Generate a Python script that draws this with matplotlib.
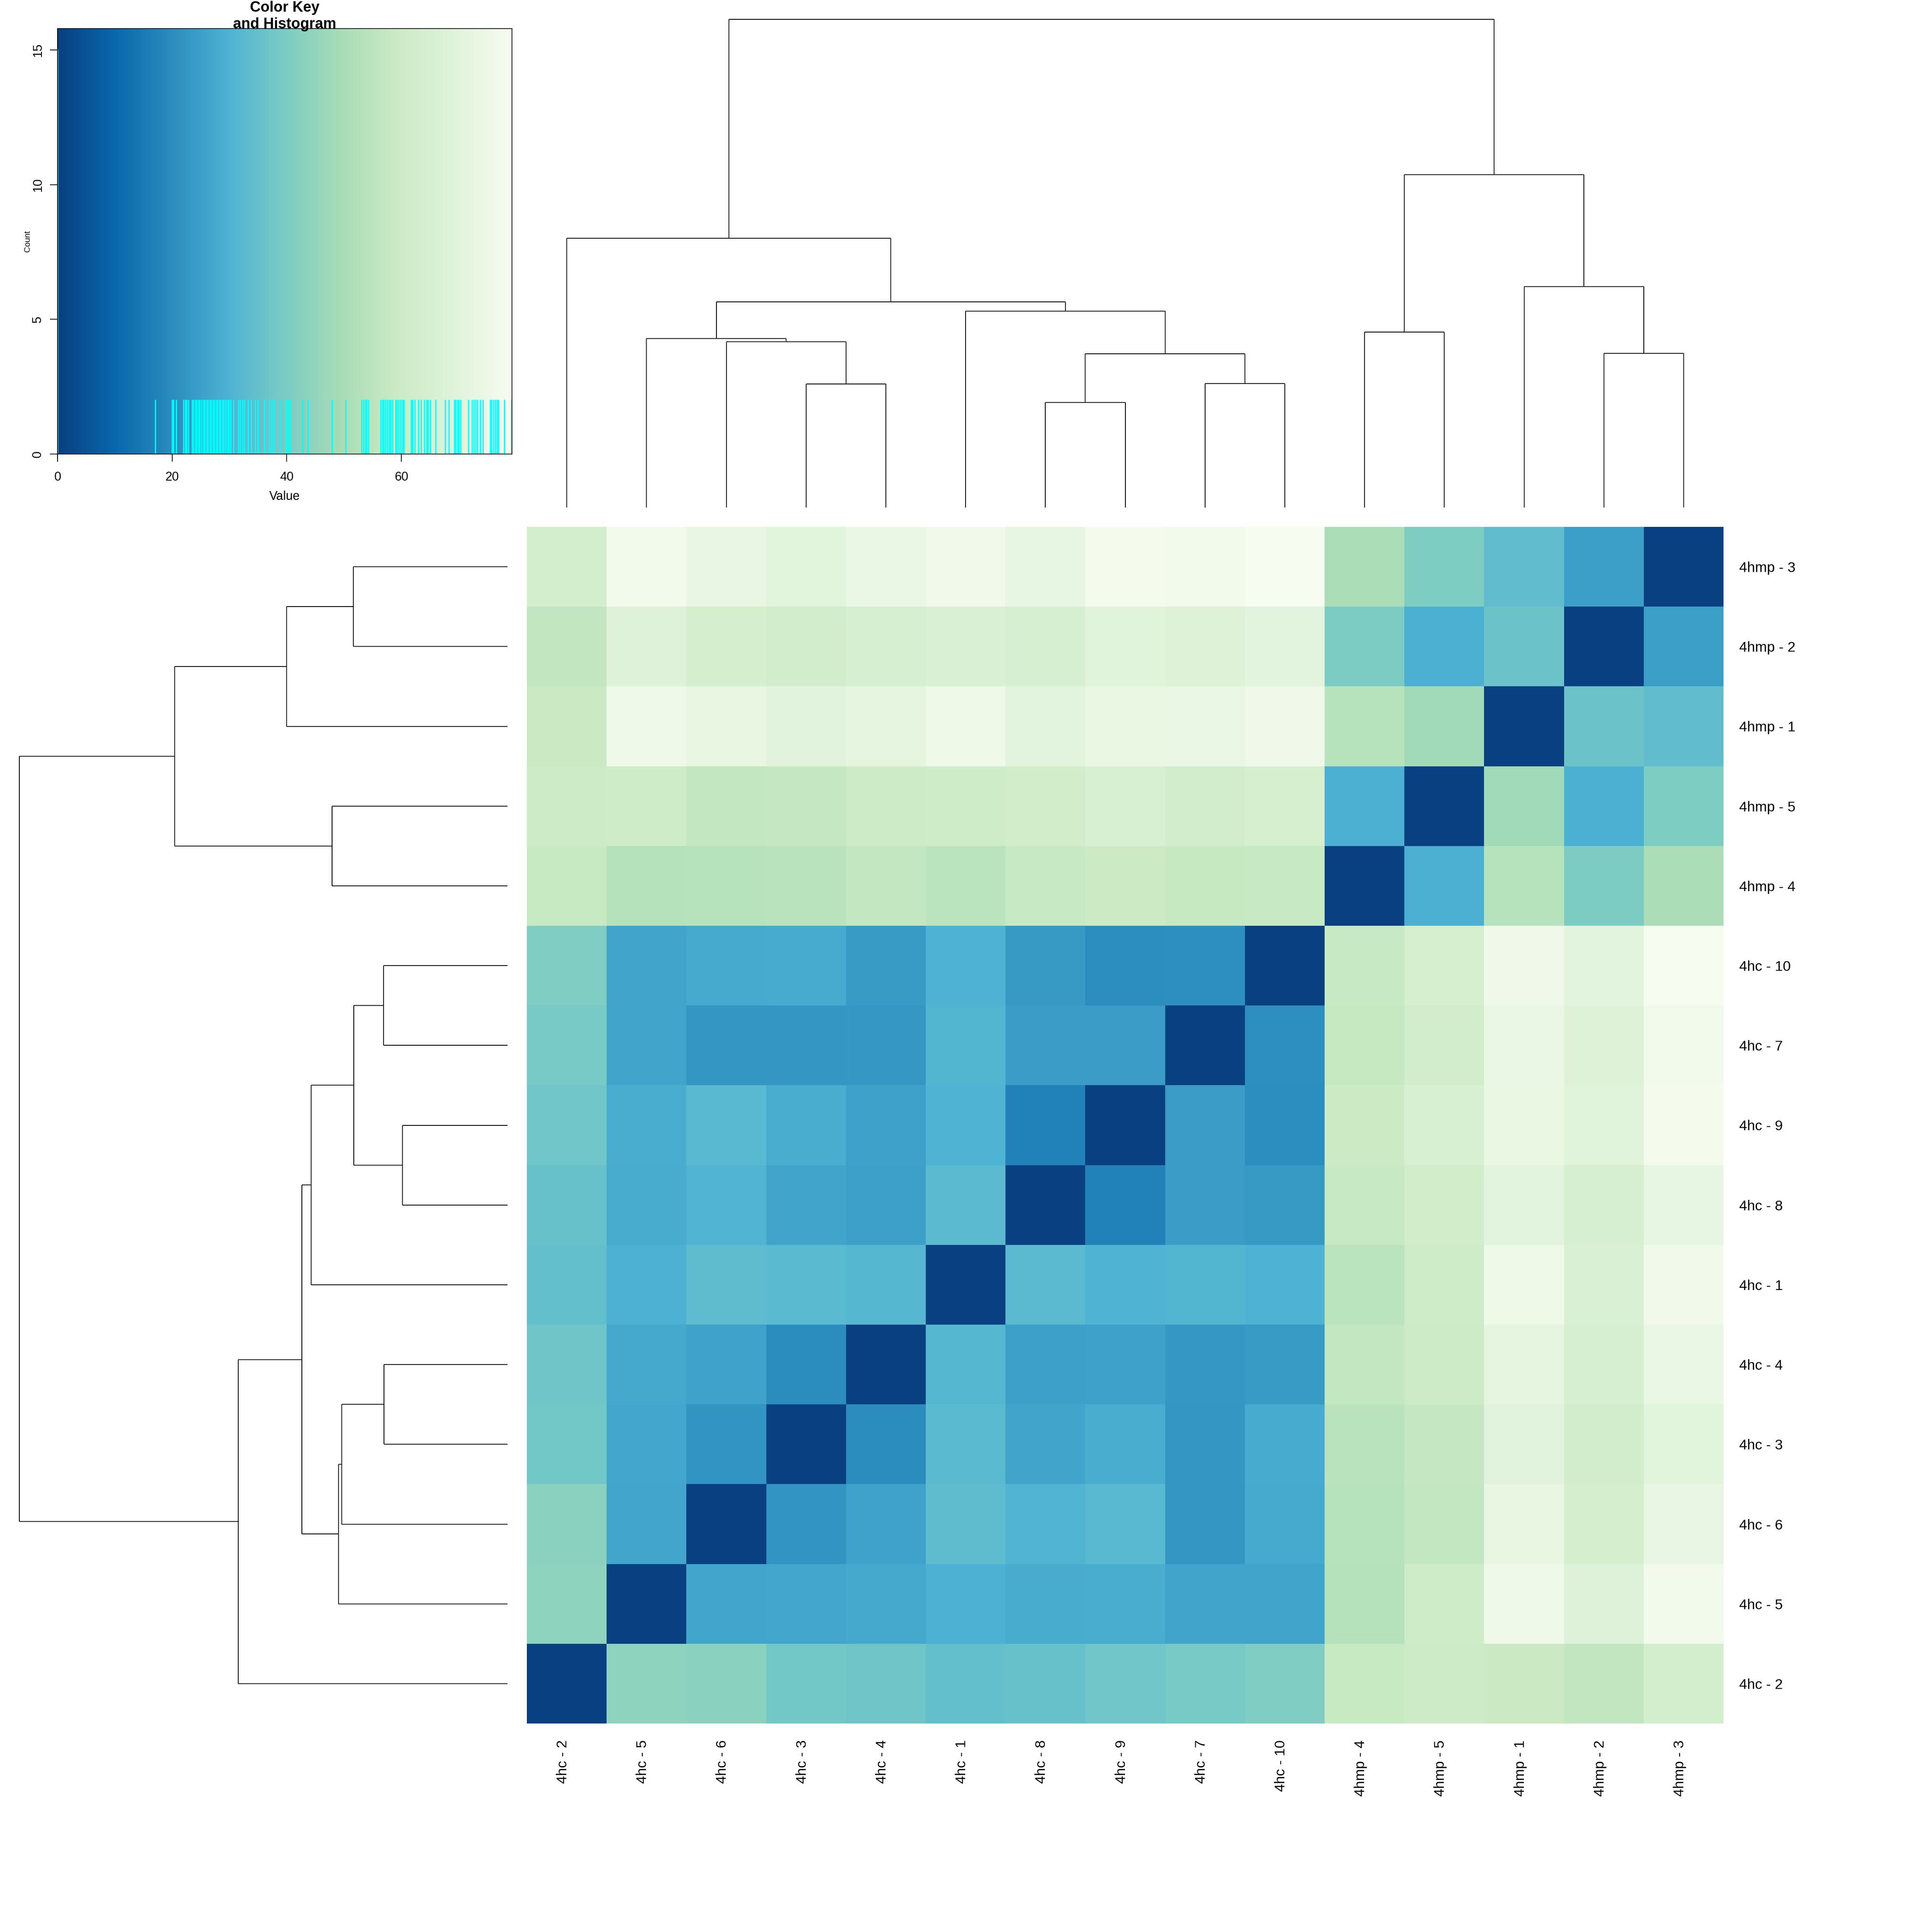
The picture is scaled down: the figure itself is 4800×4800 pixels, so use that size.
import numpy as np
import matplotlib
matplotlib.use("Agg")
import matplotlib.pyplot as plt
from matplotlib.colors import LinearSegmentedColormap, ListedColormap, BoundaryNorm

plt.rcParams['font.family'] = ['Liberation Sans', 'DejaVu Sans']

# ---------------- data ----------------
# leaf order: columns left->right, rows bottom->top
labels = ["4hc - 2", "4hc - 5", "4hc - 6", "4hc - 3", "4hc - 4", "4hc - 1",
          "4hc - 8", "4hc - 9", "4hc - 7", "4hc - 10",
          "4hmp - 4", "4hmp - 5", "4hmp - 1", "4hmp - 2", "4hmp - 3"]

dist = np.array([
    [0.0, 43.7, 42.8, 37.8, 37.0, 34.5, 35.0, 37.4, 38.8, 40.6, 58.5, 59.9, 59.0, 56.4, 63.0],
    [43.7, 0.0, 26.58, 26.86, 27.14, 29.38, 27.98, 28.26, 25.74, 26.02, 53.1, 60.2, 75.8, 68.3, 76.7],
    [42.8, 26.58, 0.0, 22.0, 25.46, 33.3, 30.22, 31.95, 22.6, 27.42, 53.4, 57.0, 72.7, 63.5, 73.0],
    [37.8, 26.86, 22.0, 0.0, 20.0, 32.3, 26.30, 28.54, 22.3, 27.70, 54.0, 57.3, 69.5, 62.4, 69.8],
    [37.0, 27.14, 25.46, 20.0, 0.0, 31.6, 24.90, 25.18, 22.9, 23.78, 56.7, 59.6, 71.7, 64.4, 73.8],
    [34.5, 29.38, 33.3, 32.3, 31.6, 0.0, 32.65, 29.94, 30.70, 29.66, 54.3, 60.5, 75.5, 66.0, 76.4],
    [35.0, 27.98, 30.22, 26.30, 24.90, 32.65, 0.0, 17.1, 24.34, 23.50, 58.2, 61.7, 70.1, 64.7, 72.4],
    [37.4, 28.26, 31.95, 28.54, 25.18, 29.94, 17.1, 0.0, 24.06, 20.3, 59.3, 65.1, 73.3, 69.3, 78.0],
    [38.8, 25.74, 22.6, 22.3, 22.9, 30.70, 24.34, 24.06, 0.0, 20.7, 57.6, 62.0, 74.3, 67.7, 77.0],
    [40.6, 26.02, 27.42, 27.70, 23.78, 29.66, 23.50, 20.3, 20.7, 0.0, 57.9, 64.0, 76.1, 70.4, 79.3],
    [58.5, 53.1, 53.4, 54.0, 56.7, 54.3, 58.2, 59.3, 57.6, 57.9, 0.0, 28.82, 53.7, 39.9, 50.3],
    [59.9, 60.2, 57.0, 57.3, 59.6, 60.5, 61.7, 65.1, 62.0, 64.0, 28.82, 0.0, 47.9, 29.10, 40.25],
    [59.0, 75.8, 72.7, 69.5, 71.7, 75.5, 70.1, 73.3, 74.3, 76.1, 53.7, 47.9, 0.0, 36.1, 33.8],
    [56.4, 68.3, 63.5, 62.4, 64.4, 66.0, 64.7, 69.3, 67.7, 70.4, 39.9, 29.10, 36.1, 0.0, 24.62],
    [63.0, 76.7, 73.0, 69.8, 73.8, 76.4, 72.4, 78.0, 77.0, 79.3, 50.3, 40.25, 33.8, 24.62, 0.0],
])

# dendrogram merges (R hclust style: negative = leaf index (1-based), positive = merge index)
merge_a = [-7, -4, -9, -14, 1, -3, -2, -11, -6, 7, -13, -1, 8, 12]
merge_b = [-8, -5, -10, -15, 3, 2, 6, -12, 5, 9, 4, 10, 11, 13]
merge_h = [21.46, 25.28, 25.35, 31.53, 31.46, 33.96, 34.65, 35.97, 40.21, 42.15,
           45.28, 55.14, 68.19, 100.0]

palette = ["#084081", "#0868ac", "#2b8cbe", "#4eb3d3", "#7bccc4",
           "#a8ddb5", "#ccebc5", "#e0f3db", "#f7fcf0"]
n_colors = 1000

key_ticks = [0, 20, 40, 60]
count_ticks = [0, 5, 10, 15]

# ---------------- setup ----------------
W = 4800.0
fig = plt.figure(figsize=(16, 16), dpi=300)
LW = 0.48


def rect(x0, y0, x1, y1):
    return [x0 / W, 1 - y1 / W, (x1 - x0) / W, (y1 - y0) / W]


ramp = LinearSegmentedColormap.from_list("gnbu_r", palette)
cols = ramp(np.linspace(0, 1, n_colors))
cmap = ListedColormap(cols)
vmin, vmax = 0.0, float(dist.max())
breaks = np.linspace(vmin, vmax, n_colors + 1)
norm = BoundaryNorm(breaks, n_colors)

n = len(labels)
HL, HT, HR, HB = 1309, 1309, 4282, 4282

# ---------------- heatmap ----------------
axh = fig.add_axes(rect(HL, HT, HR, HB))
edges = np.arange(0.5, n + 1, 1.0)
axh.pcolormesh(edges, edges, dist, cmap=cmap, norm=norm,
               edgecolors='none', antialiased=False)
axh.set_xlim(0.5, n + 0.5)
axh.set_ylim(0.5, n + 0.5)
for s in axh.spines.values():
    s.set_visible(False)
axh.yaxis.tick_right()
axh.set_yticks(np.arange(1, n + 1))
axh.set_yticklabels(labels, fontsize=8.5)
axh.set_xticks(np.arange(1, n + 1))
axh.set_xticklabels(labels, fontsize=8.5)
axh.tick_params(axis='y', length=0, pad=9.3)
axh.tick_params(axis='x', length=0, pad=9.8)
for t in axh.get_xticklabels():
    t.set_rotation(90)
    t.set_rotation_mode('anchor')
    t.set_ha('right')
    t.set_va('baseline')
for t in axh.get_yticklabels():
    t.set_va('center_baseline')


# ---------------- dendrograms ----------------
def dendro_segments():
    nodes_x = []
    nodes_h = []
    segs = []

    def pos(idx):
        if idx < 0:
            return float(-idx), 0.0
        return nodes_x[idx - 1], nodes_h[idx - 1]

    for a, b, h in zip(merge_a, merge_b, merge_h):
        xa, ha = pos(a)
        xb, hb = pos(b)
        segs.append(((xa, ha), (xa, h)))
        segs.append(((xa, h), (xb, h)))
        segs.append(((xb, h), (xb, hb)))
        nodes_x.append((xa + xb) / 2.0)
        nodes_h.append(h)
    return segs


segs = dendro_segments()
Hmax = max(merge_h)

axc = fig.add_axes(rect(HL, 0, HR, HT))
for (p0, p1) in segs:
    axc.plot([p0[0], p1[0]], [p0[1], p1[1]], color='black', lw=LW,
             solid_capstyle='butt')
axc.set_xlim(0.5, n + 0.5)
axc.set_ylim(-0.04 * Hmax, 1.04 * Hmax)
axc.axis('off')

axr = fig.add_axes(rect(0, HT, HL, HB))
for (p0, p1) in segs:
    axr.plot([p0[1], p1[1]], [p0[0], p1[0]], color='black', lw=LW,
             solid_capstyle='butt')
axr.set_ylim(0.5, n + 0.5)
axr.set_xlim(1.04 * Hmax, -0.04 * Hmax)
axr.axis('off')

# ---------------- color key ----------------
KL, KT, KR, KB = 143, 71, 1272, 1128
axk = fig.add_axes(rect(KL, KT, KR, KB))
axk.imshow(np.arange(n_colors).reshape(1, -1), cmap=cmap, extent=(0, 1, 0, 1),
           aspect='auto', interpolation='nearest')
counts, _ = np.histogram(dist.ravel(), bins=breaks)
hy = np.append(counts, counts[-1]).astype(float)
hx = (breaks - vmin) / (vmax - vmin)
axk.plot(hx, hy / hy.max() * 0.95, drawstyle='steps-post', color='cyan', lw=LW)
axk.set_xlim(0, 1)
axk.set_ylim(0, 1)
axk.set_xticks([(v - vmin) / (vmax - vmin) for v in key_ticks])
axk.set_xticklabels([str(v) for v in key_ticks], fontsize=7.4)
axk.set_yticks([v / hy.max() * 0.95 for v in count_ticks])
axk.set_yticklabels([str(v) for v in count_ticks], fontsize=7.4)
axk.tick_params(axis='both', direction='out', length=4.6, width=LW, color='black')
axk.tick_params(axis='x', pad=5.6)
axk.tick_params(axis='y', pad=5.2)
for t in axk.get_yticklabels():
    t.set_rotation(90)
    t.set_rotation_mode('anchor')
    t.set_ha('center')
    t.set_va('baseline')
for s in axk.spines.values():
    s.set_linewidth(LW)
    s.set_zorder(5)

kw = (KR - KL)
kh = (KB - KT)
axk.text(0.5, -113.5 / kh, "Value", transform=axk.transAxes,
         ha='center', va='baseline', fontsize=7.4)
axk.text((74 - KL) / kw, 0.5, "Count", transform=axk.transAxes, rotation=90,
         rotation_mode='anchor', ha='center', va='baseline', fontsize=4.85)
axk.text(0.5, (KB - 29) / kh, "Color Key", transform=axk.transAxes,
         ha='center', va='baseline', fontsize=8.8, fontweight='bold')
axk.text(0.5, (KB - 70.5) / kh, "and Histogram", transform=axk.transAxes,
         ha='center', va='baseline', fontsize=8.8, fontweight='bold')

fig.savefig("out.png", dpi=300)
